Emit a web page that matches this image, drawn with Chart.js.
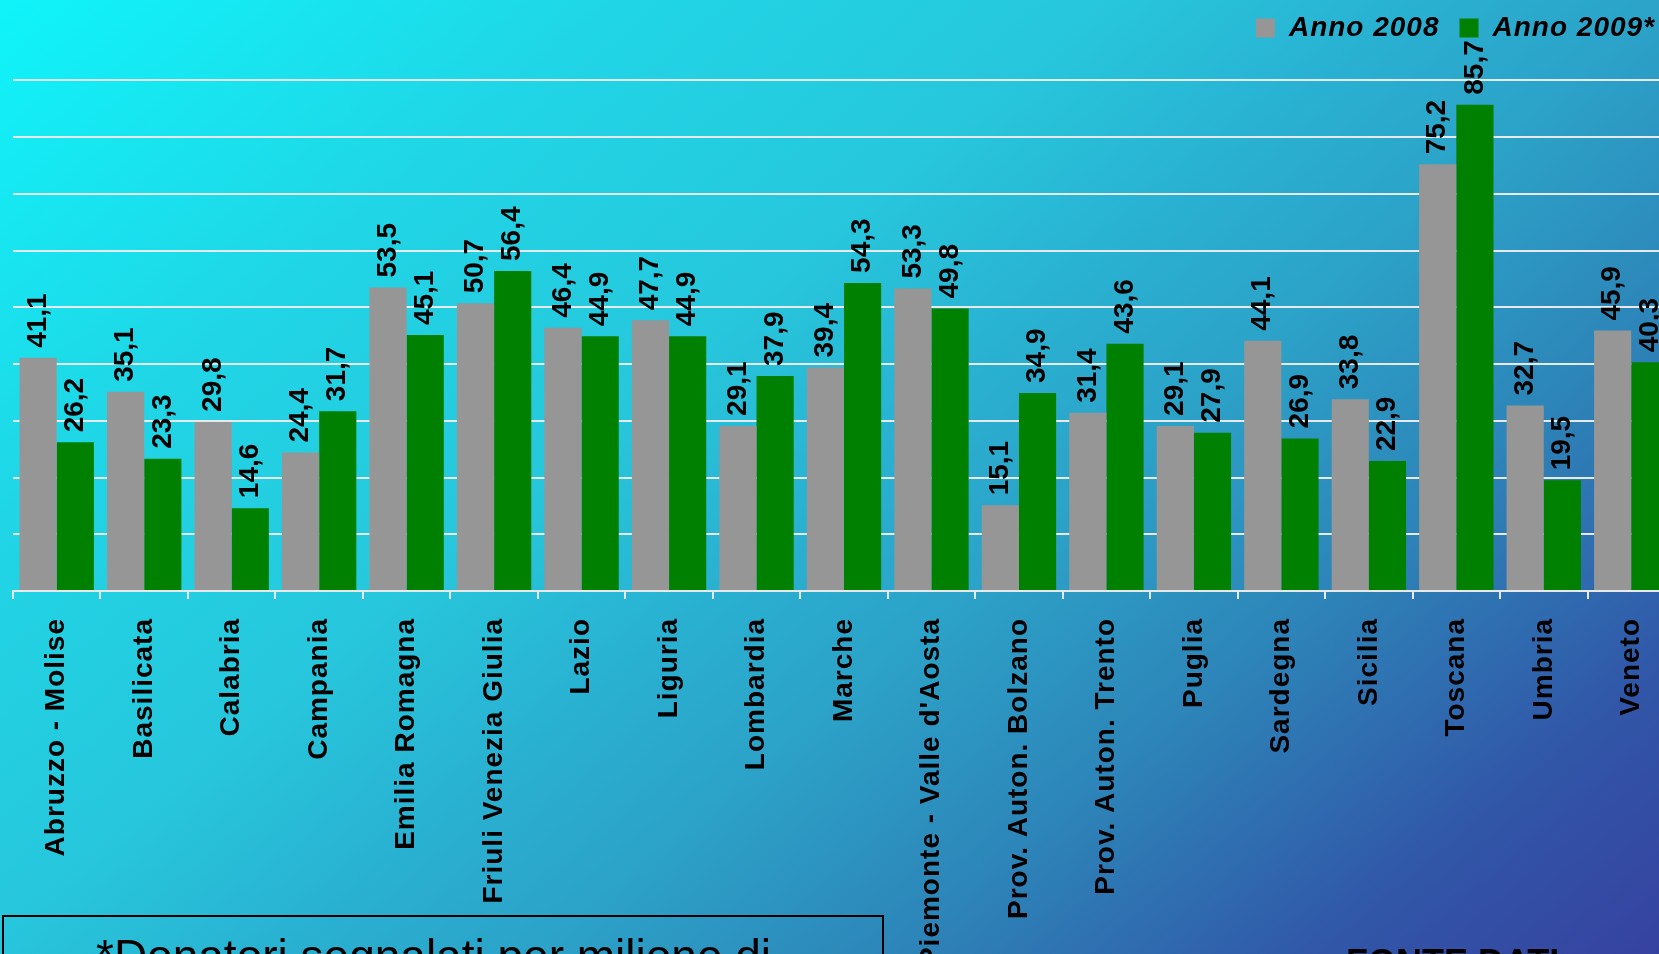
<!DOCTYPE html>
<html lang="it">
<head>
<meta charset="utf-8">
<title>Donatori per regione 2008-2009</title>
<script src="https://cdn.jsdelivr.net/npm/chart.js@4.4.1/dist/chart.umd.min.js"></script>
<style>
  html, body {
    margin: 0;
    padding: 0;
    width: 1659px;
    height: 954px;
    overflow: hidden;
  }
  body {
    position: relative;
    background: linear-gradient(140deg, #0ff4fa 0%, #20d6e6 22%, #27c6dc 40%, #29b2d2 50%, #2ca2c8 60%, #2d84b8 73%, #3156a8 88%, #3642a0 100%);
    font-family: "Liberation Sans", Arial, sans-serif;
  }
  #wrap {
    position: absolute;
    left: 0;
    top: -6px;
    width: 1675px;
    height: 1000px;
  }
  #nota {
    position: absolute;
    left: 2px;
    top: 915px;
    width: 882px;
    height: 120px;
    border: 2px solid #000;
    box-sizing: border-box;
  }
  #nota span {
    position: absolute;
    left: 92px;
    top: 14px;
    width: 740px;
    font-size: 46px;
    line-height: 1.1;
    color: #000;
  }
  #fonte {
    position: absolute;
    left: 1346px;
    top: 945px;
    font-size: 36px;
    font-weight: bold;
    line-height: 1;
    white-space: nowrap;
    color: #000;
  }
</style>
</head>
<body>
<div id="wrap"><canvas id="grafico"></canvas></div>
<div id="nota"><span>*Donatori segnalati per milione di popolazione</span></div>
<div id="fonte">FONTE DATI</div>
<script>
  // dati (donatori segnalati p.m.p.)
  const regioni = ['Abruzzo - Molise', 'Basilicata', 'Calabria', 'Campania', 'Emilia Romagna',
    'Friuli Venezia Giulia', 'Lazio', 'Liguria', 'Lombardia', 'Marche', "Piemonte - Valle d'Aosta",
    'Prov. Auton. Bolzano', 'Prov. Auton. Trento', 'Puglia', 'Sardegna', 'Sicilia', 'Toscana',
    'Umbria', 'Veneto'];
  const anno2008 = [41.1, 35.1, 29.8, 24.4, 53.5, 50.7, 46.4, 47.7, 29.1, 39.4, 53.3,
    15.1, 31.4, 29.1, 44.1, 33.8, 75.2, 32.7, 45.9];
  const anno2009 = [26.2, 23.3, 14.6, 31.7, 45.1, 56.4, 44.9, 44.9, 37.9, 54.3, 49.8,
    34.9, 43.6, 27.9, 26.9, 22.9, 85.7, 19.5, 40.3];
  const etichetteSerie = ['Anno 2008', 'Anno 2009*'];

  const FONT = '"Liberation Sans", Arial, sans-serif';
  const COLORE_GRIGLIA = '#e6eaec';

  // spaziatura delle lettere come nell'originale (legenda ed etichette asse x)
  const spaziatura = {
    id: 'spaziatura',
    beforeLayout(chart) { chart.ctx.letterSpacing = '1px'; },
    beforeDraw(chart) { chart.ctx.letterSpacing = '1px'; }
  };

  // etichette dei valori sopra le barre, ruotate
  const etichetteValori = {
    id: 'etichetteValori',
    afterDatasetsDraw(chart) {
      const ctx = chart.ctx;
      ctx.save();
      ctx.letterSpacing = '0px';
      ctx.font = 'bold 28px ' + FONT;
      ctx.fillStyle = '#000';
      ctx.textAlign = 'left';
      ctx.textBaseline = 'middle';
      chart.data.datasets.forEach((ds, i) => {
        chart.getDatasetMeta(i).data.forEach((bar, j) => {
          const testo = ds.data[j].toFixed(1).replace('.', ',');
          ctx.save();
          ctx.translate(bar.x, bar.y - 10);
          ctx.rotate(-Math.PI / 2);
          ctx.fillText(testo, 0, 0);
          ctx.restore();
        });
      });
      ctx.restore();
    }
  };

  const data = {
    labels: regioni,
    datasets: [
      {
        label: etichetteSerie[0],
        data: anno2008,
        backgroundColor: '#969696',
        borderWidth: 0
      },
      {
        label: etichetteSerie[1],
        data: anno2009,
        backgroundColor: '#008000',
        borderWidth: 0
      }
    ]
  };

  const config = {
    type: 'bar',
    data: data,
    options: {
      responsive: true,
      maintainAspectRatio: false,
      animation: false,
      barPercentage: 1,
      categoryPercentage: 0.85,
      layout: {
        padding: { left: 13, right: 0, top: 0, bottom: 0 }
      },
      plugins: {
        legend: {
          position: 'top',
          align: 'end',
          labels: {
            boxWidth: 19,
            boxHeight: 19,
            padding: 20,
            color: '#000',
            font: { family: FONT, size: 28, weight: 'bold', style: 'italic' }
          }
        },
        tooltip: { enabled: false }
      },
      scales: {
        x: {
          grid: {
            offset: true,
            drawOnChartArea: false,
            color: COLORE_GRIGLIA,
            lineWidth: 2,
            tickLength: 8
          },
          border: { display: true, color: COLORE_GRIGLIA, width: 2 },
          ticks: {
            autoSkip: false,
            maxRotation: 90,
            minRotation: 90,
            padding: 19,
            color: '#000',
            font: { family: FONT, size: 28, weight: 'bold' }
          },
          afterFit(scale) {
            scale.height = 403; // altezza fissa: le etichette lunghe escono dal basso
            scale.paddingLeft = 0;
            scale.paddingRight = 0; // l'ultima barra arriva al bordo destro
          }
        },
        y: {
          min: 0,
          max: 95,
          ticks: { display: false, stepSize: 10 },
          grid: {
            drawTicks: false,
            lineWidth: 2,
            color: (c) => (c.tick.value > 90 || c.tick.value === 0) ? 'rgba(0,0,0,0)' : COLORE_GRIGLIA
          },
          border: { display: false }
        }
      }
    },
    plugins: [spaziatura, etichetteValori]
  };

  const grafico = new Chart(document.getElementById('grafico'), config);
</script>
</body>
</html>
